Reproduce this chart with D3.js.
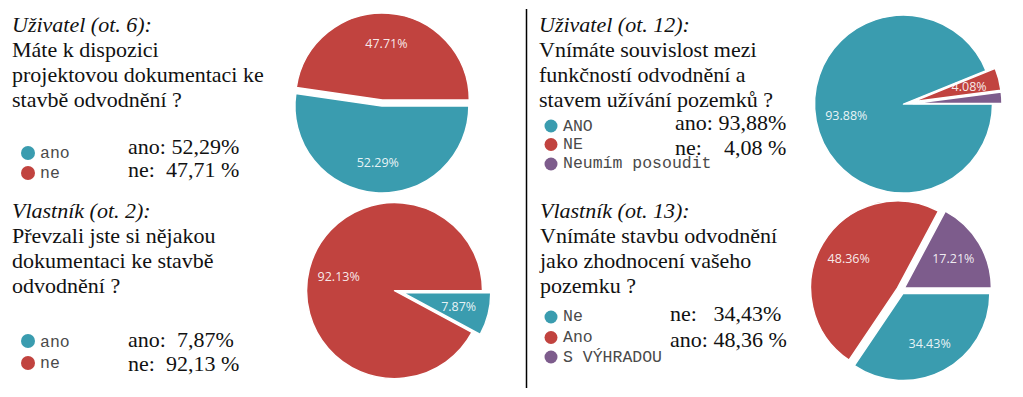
<!DOCTYPE html>
<html>
<head>
<meta charset="utf-8">
<script src="https://cdn.jsdelivr.net/npm/d3@7"></script>
<style>
  html, body { margin: 0; padding: 0; background: #fff; }
  svg { display: block; }
  text { white-space: pre; }
</style>
</head>
<body>
<svg id="chart" width="1023" height="397"></svg>
<script>
// ---------- DATA ----------
const p1Categories = ["ano", "ne"];
const p1Values = [52.29, 47.71];
const p1Title = ["Uživatel (ot. 6):", "Máte k dispozici", "projektovou dokumentaci ke", "stavbě odvodnění ?"];
const p1Summary = ["ano: 52,29%", "ne:  47,71 %"];

const p2Categories = ["ano", "ne"];
const p2Values = [7.87, 92.13];
const p2Title = ["Vlastník (ot. 2):", "Převzali jste si nějakou", "dokumentaci ke stavbě", "odvodnění ?"];
const p2Summary = ["ano:  7,87%", "ne:  92,13 %"];

const p3Categories = ["ANO", "NE", "Neumím posoudit"];
const p3Values = [93.88, 4.08, 2.04];
const p3Title = ["Uživatel (ot. 12):", "Vnímáte souvislost mezi", "funkčností odvodnění a", "stavem užívání pozemků ?"];
const p3Summary = ["ano: 93,88%", "ne:    4,08 %"];

const p4Categories = ["Ne", "Ano", "S VÝHRADOU"];
const p4Values = [34.43, 48.36, 17.21];
const p4Title = ["Vlastník (ot. 13):", "Vnímáte stavbu odvodnění", "jako zhodnocení vašeho", "pozemku ?"];
const p4Summary = ["ne:   34,43%", "ano: 48,36 %"];

const sliceColors = ["#3A9CAF", "#C1433F", "#7D5C8C"];

// ---------- LAYOUT (positions / styles) ----------
const layout = [
  { cats: p1Categories, vals: p1Values, title: p1Title, summary: p1Summary,
    tx: 12, ty: 32, lx: 28, ly: [153, 173], lty: [158, 178], dotR: 7, sx: 128, sy: [154, 177],
    cx: 382, cy: 104.5, r: 87, off: [1.5, 4.5] },
  { cats: p2Categories, vals: p2Values, title: p2Title, summary: p2Summary,
    tx: 12, ty: 218, lx: 28, ly: [341, 363], lty: [346.5, 368], dotR: 7, sx: 128, sy: [347, 371],
    cx: 396, cy: 291, r: 88, off: [7, 1.5] },
  { cats: p3Categories, vals: p3Values, title: p3Title, summary: p3Summary,
    tx: 539, ty: 32, lx: 551, ly: [126, 144.5, 164], lty: [130.5, 149, 168], dotR: 6.5, sx: 675, sy: [129.5, 155],
    cx: 904, cy: 104, r: 89, off: [0.5, 9, 9] },
  { cats: p4Categories, vals: p4Values, title: p4Title, summary: p4Summary,
    tx: 540, ty: 218, lx: 551, ly: [317, 337.5, 357], lty: [321, 341.5, 361.5], dotR: 6.5, sx: 670, sy: [321, 347],
    cx: 901, cy: 290, r: 87, off: [4, 4, 4] }
];

const svg = d3.select("#chart");
const color = d3.scaleOrdinal().range(sliceColors);
const fmt = d3.format(".2f");

// separator line
svg.append("line")
  .attr("x1", 526.5).attr("x2", 526.5)
  .attr("y1", 9).attr("y2", 388)
  .attr("stroke", "#000").attr("stroke-width", 1.5);

layout.forEach(p => {
  const g = svg.append("g");
  color.domain(p.cats.map((c, i) => i));

  // title text
  p.title.forEach((line, i) => {
    g.append("text")
      .attr("x", p.tx).attr("y", p.ty + i * 25)
      .attr("font-family", "'Liberation Serif', 'Times New Roman', serif")
      .attr("font-size", 22)
      .attr("font-style", i === 0 ? "italic" : "normal")
      .attr("fill", "#111")
      .text(line);
  });

  // legend
  p.cats.forEach((c, i) => {
    g.append("circle")
      .attr("cx", p.lx).attr("cy", p.ly[i]).attr("r", p.dotR)
      .attr("fill", color(i));
    g.append("text")
      .attr("x", p.lx + 12).attr("y", p.lty[i])
      .attr("font-family", "'Liberation Mono', 'Courier New', monospace")
      .attr("font-size", 16.5)
      .attr("fill", "#4a4a4a")
      .text(c);
  });

  // summary
  p.summary.forEach((s, i) => {
    g.append("text")
      .attr("x", p.sx).attr("y", p.sy[i])
      .attr("font-family", "'Liberation Serif', 'Times New Roman', serif")
      .attr("font-size", 22)
      .attr("fill", "#111")
      .text(s);
  });

  // pie
  const pie = d3.pie().sort(null).value(d => d)
    .startAngle(Math.PI / 2).endAngle(Math.PI / 2 + 2 * Math.PI);
  const arcs = pie(p.vals);
  const arc = d3.arc().innerRadius(0).outerRadius(p.r);
  const pg = g.append("g").attr("transform", `translate(${p.cx},${p.cy})`);
  arcs.forEach((a, i) => {
    const mid = (a.startAngle + a.endAngle) / 2;
    const dx = Math.sin(mid) * p.off[i], dy = -Math.cos(mid) * p.off[i];
    const sg = pg.append("g").attr("transform", `translate(${dx},${dy})`);
    sg.append("path").attr("d", arc(a))
      .attr("fill", color(i))
      .attr("stroke", "#fff").attr("stroke-width", 1.5)
      .attr("stroke-linejoin", "round");
    if (a.data >= 3) {
      const lr = p.r * 0.655;
      sg.append("text")
        .attr("x", Math.sin(mid) * lr).attr("y", -Math.cos(mid) * lr)
        .attr("text-anchor", "middle").attr("dominant-baseline", "central")
        .attr("font-family", "'Open Sans', 'Liberation Sans', Arial, sans-serif")
        .attr("font-size", 12.5)
        .attr("fill", "#fff").attr("fill-opacity", 0.9)
        .text(fmt(a.data) + "%");
    }
  });
});
</script>
</body>
</html>
